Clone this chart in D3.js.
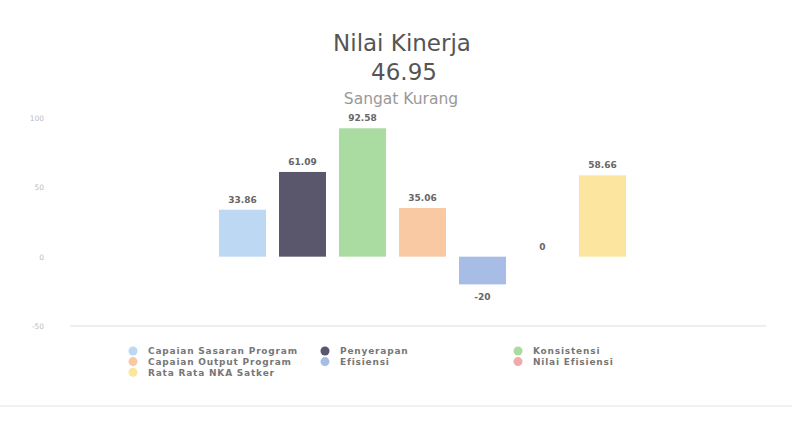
<!DOCTYPE html>
<html>
<head>
<meta charset="utf-8">
<script src="https://cdn.jsdelivr.net/npm/d3@7"></script>
<style>
  body { margin: 0; background: #fff; }
  text { font-family: "DejaVu Sans", "Open Sans", sans-serif; }
</style>
</head>
<body>
<div id="chart"></div>
<script>
// series (one category, seven bars)
const series = ['Capaian Sasaran Program', 'Penyerapan', 'Konsistensi', 'Capaian Output Program',
                'Efisiensi', 'Nilai Efisiensi', 'Rata Rata NKA Satker'];
const values = [33.86, 61.09, 92.58, 35.06, -20, 0, 58.66];
const colors = ['#bcd8f2', '#5a566c', '#aadca2', '#f8c9a2', '#a7bde6', '#f2a9aa', '#fbe59f'];
const yTicks = [100, 50, 0, -50];
// legend order as drawn (column by column)
const legendOrder = [0, 3, 6, 1, 4, 2, 5];

const width = 792, height = 428;
const svg = d3.select('#chart').append('svg')
    .attr('width', width)
    .attr('height', height);

// titles
svg.append('text').attr('x', 402).attr('y', 51).attr('text-anchor', 'middle')
    .style('font-size', '23px').style('fill', '#555').text('Nilai Kinerja');
svg.append('text').attr('x', 404).attr('y', 80).attr('text-anchor', 'middle')
    .style('font-size', '23px').style('fill', '#555').text('46.95');
svg.append('text').attr('x', 401).attr('y', 104).attr('text-anchor', 'middle')
    .style('font-size', '15.5px').style('fill', '#999').text('Sangat Kurang');

const y = d3.scaleLinear().domain([-50, 100]).range([326, 118]);
const x = d3.scaleBand().domain(series).range([219, 626]).paddingInner(0.217).paddingOuter(0);

// axis labels
svg.append('g').selectAll('text')
    .data(yTicks)
  .enter().append('text')
    .attr('x', 44)
    .attr('y', d => y(d) + 3)
    .attr('text-anchor', 'end')
    .style('font-size', '7.5px')
    .style('fill', '#bbb')
    .text(d => d);

// bottom gridline
svg.append('line')
    .attr('x1', 70).attr('x2', 766)
    .attr('y1', y(-50)).attr('y2', y(-50))
    .style('stroke', '#ddd').style('stroke-width', 1);

// bars
svg.append('g').selectAll('rect')
    .data(values)
  .enter().append('rect')
    .attr('x', (d, i) => x(series[i]))
    .attr('width', x.bandwidth())
    .attr('y', d => y(Math.max(d, 0)))
    .attr('height', d => Math.abs(y(d) - y(0)))
    .style('fill', (d, i) => colors[i]);

// value labels
svg.append('g').selectAll('text')
    .data(values)
  .enter().append('text')
    .attr('x', (d, i) => x(series[i]) + x.bandwidth() / 2)
    .attr('y', d => d < 0 ? y(d) + 16 : y(d) - 7)
    .attr('text-anchor', 'middle')
    .style('font-size', '9px')
    .style('font-weight', 'bold')
    .style('fill', '#666')
    .text(d => d);

// legend
const legendPos = [[133, 351], [133, 361.6], [133, 372.2], [325, 351], [325, 361.6], [518, 351], [518, 361.6]];
const legend = svg.append('g').selectAll('g')
    .data(legendOrder)
  .enter().append('g')
    .attr('transform', (d, i) => 'translate(' + legendPos[i][0] + ',' + legendPos[i][1] + ')');
legend.append('circle')
    .attr('r', 4.5)
    .style('fill', d => colors[d]);
legend.append('text')
    .attr('x', 15)
    .attr('y', 3.3)
    .style('font-size', '9px')
    .style('font-weight', 'bold')
    .style('letter-spacing', '0.8px')
    .style('fill', '#777')
    .text(d => series[d]);

// faint separator at the bottom
svg.append('line')
    .attr('x1', 0).attr('x2', width)
    .attr('y1', 406).attr('y2', 406)
    .style('stroke', '#e4e4e4');
</script>
</body>
</html>
